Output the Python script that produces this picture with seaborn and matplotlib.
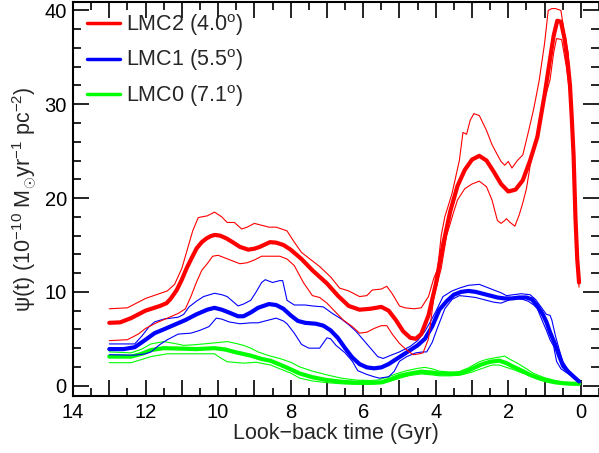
import numpy as np
import pandas as pd
import seaborn as sns
import matplotlib.pyplot as plt
from matplotlib.ticker import MultipleLocator, FuncFormatter

# star formation history: (look-back time in Gyr, psi)
lmc2_mid = [(13.0, 6.7), (12.7, 6.75), (12.4, 7.2), (12.0, 8.0), (11.6, 8.5), (11.42, 8.8),
            (11.3, 9.3), (11.14, 10.2), (11.0, 11.3), (10.87, 12.5), (10.73, 13.6), (10.59, 14.65),
            (10.45, 15.3), (10.32, 15.7), (10.2, 15.95), (10.09, 16.07), (9.95, 16.0), (9.77, 15.7),
            (9.6, 15.3), (9.4, 14.8), (9.17, 14.5), (9.0, 14.6), (8.85, 14.8), (8.57, 15.3),
            (8.4, 15.25), (8.2, 15.0), (8.0, 14.5), (7.7, 13.5), (7.4, 12.3), (7.0, 10.9),
            (6.7, 9.6), (6.4, 8.5), (6.1, 8.1), (5.8, 8.2), (5.5, 8.4), (5.3, 8.0),
            (5.1, 7.0), (4.9, 5.8), (4.7, 5.1), (4.55, 5.0), (4.4, 5.5), (4.2, 7.5),
            (4.0, 10.8), (3.8, 15.0), (3.6, 18.6), (3.4, 21.3), (3.2, 23.0), (3.0, 24.1),
            (2.8, 24.5), (2.6, 24.0), (2.4, 22.8), (2.2, 21.5), (2.0, 20.7), (1.8, 20.9),
            (1.6, 21.9), (1.4, 24.0), (1.2, 26.5), (1.0, 31.0), (0.85, 34.8), (0.75, 37.3),
            (0.65, 38.9), (0.55, 38.8), (0.45, 37.0), (0.35, 34.0), (0.3, 32.0), (0.25, 28.5),
            (0.2, 24.5), (0.15, 18.0), (0.1, 13.5), (0.05, 11.0)]
lmc2_hi = [(13.0, 8.2), (12.5, 8.3), (12.2, 8.9), (12.0, 9.3), (11.7, 9.7), (11.4, 10.1),
           (11.2, 10.8), (11.0, 12.5), (10.85, 14.5), (10.7, 16.5), (10.55, 17.9), (10.45, 18.0),
           (10.3, 18.1), (10.1, 18.5), (9.9, 18.0), (9.75, 17.4), (9.55, 17.4), (9.35, 16.7),
           (9.2, 16.9), (9.0, 17.3), (8.8, 17.1), (8.6, 16.9), (8.4, 16.9), (8.1, 16.5),
           (7.9, 15.3), (7.7, 14.2), (7.4, 13.3), (7.2, 12.7), (6.9, 11.6), (6.65, 10.4),
           (6.4, 10.1), (6.1, 9.5), (5.9, 9.6), (5.75, 10.2), (5.5, 10.3), (5.35, 10.6),
           (5.2, 9.8), (5.0, 8.5), (4.85, 8.3), (4.6, 8.2), (4.4, 8.3), (4.2, 9.5),
           (4.05, 11.5), (3.95, 12.4), (3.85, 16.0), (3.75, 18.0), (3.55, 20.5), (3.35, 24.0),
           (3.25, 27.0), (3.15, 26.8), (3.05, 28.3), (2.95, 29.0), (2.8, 28.8), (2.6, 27.2),
           (2.45, 25.7), (2.3, 24.6), (2.2, 23.9), (2.1, 23.5), (2.0, 23.9), (1.9, 23.2),
           (1.75, 24.0), (1.6, 24.6), (1.45, 27.0), (1.3, 29.5), (1.15, 32.5), (1.0, 36.5),
           (0.9, 40.0), (0.8, 40.2), (0.7, 40.2), (0.55, 40.0), (0.45, 37.5), (0.35, 35.5),
           (0.25, 29.0), (0.2, 25.0), (0.15, 18.0), (0.1, 13.0), (0.05, 10.5)]
lmc2_lo = [(13.0, 4.8), (12.5, 4.9), (12.2, 5.5), (12.0, 6.1), (11.7, 6.7), (11.4, 7.2),
           (11.1, 7.7), (10.9, 8.2), (10.75, 9.5), (10.6, 11.0), (10.45, 12.3), (10.3, 13.0),
           (10.15, 13.8), (10.0, 13.9), (9.8, 13.6), (9.6, 13.3), (9.4, 13.0), (9.2, 13.1),
           (9.0, 13.4), (8.8, 13.8), (8.5, 13.8), (8.3, 13.8), (8.1, 13.5), (7.9, 12.8),
           (7.65, 11.0), (7.4, 9.6), (7.2, 9.4), (7.0, 8.8), (6.8, 8.0), (6.55, 7.0),
           (6.3, 6.3), (6.1, 5.6), (5.9, 5.7), (5.7, 6.1), (5.5, 6.4), (5.35, 6.4),
           (5.2, 5.5), (5.0, 4.5), (4.8, 3.8), (4.62, 3.3), (4.45, 3.4), (4.35, 3.5),
           (4.2, 5.0), (4.05, 9.5), (3.85, 12.5), (3.7, 16.0), (3.5, 18.6), (3.4, 19.8),
           (3.2, 21.0), (3.0, 21.5), (2.8, 21.8), (2.6, 21.2), (2.45, 19.8), (2.3, 17.6),
           (2.2, 17.3), (2.1, 17.6), (2.05, 17.8), (1.95, 17.4), (1.82, 17.0), (1.7, 18.2),
           (1.6, 19.5), (1.5, 21.0), (1.4, 23.4), (1.2, 27.0), (1.0, 30.5), (0.85, 32.6),
           (0.75, 35.5), (0.67, 37.0), (0.53, 36.9), (0.4, 34.0), (0.3, 31.0), (0.2, 24.0),
           (0.15, 18.0), (0.1, 13.5), (0.05, 11.0)]

lmc1_mid = [(13.0, 3.9), (12.6, 3.9), (12.3, 4.1), (12.0, 4.9), (11.75, 5.6), (11.5, 6.0),
            (11.2, 6.5), (10.9, 7.0), (10.6, 7.6), (10.3, 8.1), (10.1, 8.3), (9.9, 8.1),
            (9.7, 7.8), (9.45, 7.4), (9.3, 7.4), (9.1, 7.8), (8.9, 8.3), (8.6, 8.7),
            (8.4, 8.6), (8.2, 8.2), (8.0, 7.5), (7.8, 6.9), (7.6, 6.7), (7.3, 6.6),
            (7.1, 6.4), (6.9, 5.9), (6.7, 5.1), (6.5, 4.0), (6.3, 3.0), (6.1, 2.3),
            (5.9, 1.95), (5.7, 1.85), (5.5, 1.95), (5.3, 2.3), (5.1, 2.8), (4.9, 3.3),
            (4.7, 3.8), (4.5, 4.3), (4.3, 5.0), (4.1, 6.3), (3.9, 8.1), (3.7, 9.0),
            (3.5, 9.7), (3.3, 10.0), (3.1, 10.1), (2.9, 10.0), (2.7, 9.8), (2.5, 9.6),
            (2.3, 9.4), (2.1, 9.3), (1.9, 9.3), (1.7, 9.4), (1.5, 9.4), (1.35, 9.2),
            (1.2, 8.5), (1.05, 7.6), (0.95, 6.8), (0.85, 5.7), (0.72, 4.5), (0.6, 3.2),
            (0.49, 2.1), (0.35, 1.5), (0.21, 1.0), (0.05, 0.45)]
lmc1_hi = [(13.0, 4.45), (12.3, 4.45), (12.1, 5.3), (11.9, 6.3), (11.75, 6.8), (11.5, 7.1),
           (11.1, 7.3), (10.95, 7.6), (10.8, 8.4), (10.6, 9.0), (10.4, 9.5), (10.1, 9.85),
           (9.9, 9.7), (9.75, 9.5), (9.6, 9.0), (9.45, 8.5), (9.3, 8.7), (9.1, 9.1),
           (8.95, 10.0), (8.8, 11.0), (8.7, 11.3), (8.5, 11.0), (8.3, 11.2), (8.22, 11.2),
           (8.1, 9.1), (7.9, 8.6), (7.6, 8.6), (7.4, 8.5), (7.1, 8.4), (6.85, 7.7),
           (6.6, 7.1), (6.4, 6.5), (6.2, 5.8), (6.0, 4.9), (5.8, 4.0), (5.6, 3.1),
           (5.45, 2.9), (5.2, 3.3), (5.0, 3.6), (4.7, 4.2), (4.5, 4.8), (4.3, 5.8),
           (4.15, 6.8), (4.0, 7.9), (3.8, 9.5), (3.55, 10.1), (3.35, 10.4), (3.1, 10.7),
           (2.8, 10.8), (2.6, 10.5), (2.4, 10.2), (2.2, 9.9), (2.05, 9.6), (1.85, 9.7),
           (1.65, 9.8), (1.4, 9.7), (1.25, 9.2), (1.1, 8.4), (0.95, 7.6), (0.85, 7.5),
           (0.8, 7.0), (0.7, 5.3), (0.6, 3.9), (0.5, 2.6), (0.35, 1.7), (0.2, 1.0),
           (0.05, 0.45)]
lmc1_lo = [(13.0, 3.3), (12.3, 3.25), (12.0, 3.4), (11.85, 3.6), (11.6, 4.4), (11.4, 4.9),
           (11.1, 5.5), (10.75, 5.6), (10.5, 5.9), (10.25, 6.3), (10.05, 7.2), (9.9, 7.1),
           (9.7, 6.8), (9.4, 6.6), (9.1, 6.7), (8.9, 6.7), (8.6, 7.0), (8.4, 7.2),
           (8.2, 6.9), (8.1, 6.6), (7.9, 5.6), (7.7, 4.4), (7.5, 4.0), (7.2, 4.0),
           (7.0, 5.1), (6.9, 5.0), (6.75, 4.3), (6.5, 3.5), (6.3, 2.6), (6.15, 1.6),
           (5.9, 1.2), (5.7, 0.95), (5.55, 0.8), (5.3, 0.95), (5.15, 1.5), (5.0, 2.6),
           (4.8, 3.1), (4.55, 3.5), (4.35, 3.6), (4.25, 3.6), (4.1, 4.6), (3.95, 6.2),
           (3.75, 8.2), (3.55, 9.2), (3.35, 9.6), (3.1, 9.5), (2.9, 9.4), (2.6, 9.1),
           (2.4, 8.9), (2.2, 8.8), (2.0, 9.1), (1.85, 9.3), (1.6, 9.2), (1.45, 9.0),
           (1.3, 8.6), (1.2, 8.2), (1.05, 6.8), (0.95, 5.9), (0.85, 4.9), (0.75, 4.2),
           (0.67, 2.6), (0.55, 1.8), (0.4, 1.4), (0.2, 0.9), (0.05, 0.45)]

lmc0_mid = [(13.0, 3.1), (12.4, 3.1), (12.1, 3.4), (11.85, 3.8), (11.5, 4.0), (11.0, 3.95),
            (10.6, 3.9), (10.1, 4.0), (9.8, 3.85), (9.5, 3.55), (9.1, 3.2), (8.8, 2.85),
            (8.55, 2.65), (8.3, 2.25), (8.0, 1.75), (7.75, 1.3), (7.4, 0.9), (7.0, 0.6),
            (6.6, 0.42), (6.2, 0.32), (5.8, 0.3), (5.5, 0.35), (5.2, 0.75), (5.0, 1.05),
            (4.7, 1.3), (4.4, 1.5), (4.1, 1.4), (3.9, 1.3), (3.6, 1.25), (3.4, 1.25),
            (3.2, 1.45), (3.0, 1.8), (2.75, 2.25), (2.5, 2.55), (2.25, 2.67), (2.05, 2.4),
            (1.85, 2.0), (1.6, 1.55), (1.4, 1.15), (1.2, 0.85), (0.95, 0.55), (0.7, 0.35),
            (0.45, 0.25), (0.2, 0.2), (0.05, 0.2)]
lmc0_hi = [(13.0, 3.6), (12.4, 3.5), (12.1, 3.9), (11.85, 4.45), (11.5, 4.7), (11.2, 4.5),
           (10.95, 4.3), (10.7, 4.35), (10.4, 4.45), (10.0, 4.6), (9.75, 4.7), (9.5, 4.5),
           (9.3, 4.3), (9.1, 4.0), (8.9, 3.6), (8.6, 3.2), (8.3, 2.9), (8.0, 2.5),
           (7.75, 2.0), (7.4, 1.55), (7.0, 1.15), (6.6, 0.8), (6.2, 0.6), (5.8, 0.55),
           (5.6, 0.6), (5.3, 0.95), (5.1, 1.25), (4.8, 1.6), (4.5, 1.85), (4.3, 1.95),
           (4.1, 1.8), (3.9, 1.55), (3.6, 1.45), (3.35, 1.5), (3.1, 1.9), (2.8, 2.55),
           (2.6, 2.8), (2.4, 2.95), (2.1, 3.15), (1.95, 2.8), (1.75, 2.4), (1.5, 1.8),
           (1.3, 1.3), (1.0, 0.85), (0.75, 0.6), (0.45, 0.35), (0.2, 0.25), (0.05, 0.2)]
lmc0_lo = [(13.0, 2.45), (12.4, 2.45), (12.1, 2.8), (11.85, 3.1), (11.4, 3.4), (10.7, 3.4),
           (10.1, 3.4), (9.95, 3.0), (9.75, 2.55), (9.3, 2.4), (8.95, 2.5), (8.55, 2.2),
           (8.3, 1.8), (8.0, 1.35), (7.75, 0.8), (7.4, 0.5), (7.0, 0.32), (6.6, 0.2),
           (6.2, 0.15), (5.7, 0.2), (5.4, 0.3), (5.15, 0.6), (4.9, 0.9), (4.7, 1.1),
           (4.4, 1.25), (4.1, 1.15), (3.9, 1.05), (3.6, 1.05), (3.3, 1.15), (3.0, 1.45),
           (2.75, 1.8), (2.45, 2.2), (2.25, 2.2), (2.05, 1.95), (1.85, 1.7), (1.65, 1.4),
           (1.4, 1.05), (1.2, 0.8), (0.95, 0.55), (0.75, 0.43), (0.45, 0.3), (0.2, 0.22),
           (0.05, 0.2)]

fields = ['LMC2 (4.0$^{\\rm o}$)', 'LMC1 (5.5$^{\\rm o}$)', 'LMC0 (7.1$^{\\rm o}$)']
colors = ['#ff0000', '#0000ff', '#00ff00']
series = [(lmc2_mid, lmc2_hi, lmc2_lo), (lmc1_mid, lmc1_hi, lmc1_lo), (lmc0_mid, lmc0_hi, lmc0_lo)]

sns.set_theme(style='ticks')
plt.rcParams['font.family'] = ['Liberation Sans', 'DejaVu Sans']
plt.rcParams['mathtext.fontset'] = 'custom'
plt.rcParams['mathtext.rm'] = 'Liberation Sans'
plt.rcParams['mathtext.it'] = 'Liberation Sans:italic'

fig = plt.figure(figsize=(5.99, 4.53), dpi=100)
ax = fig.add_axes([73 / 599, 57 / 453, 526 / 599, 394 / 453])

for i, (name, col, (mid, hi, lo)) in enumerate(zip(fields, colors, series)):
    z = 10 - i
    for band in (hi, lo):
        df = pd.DataFrame(band, columns=['t', 'sfr'])
        sns.lineplot(data=df, x='t', y='sfr', color=col, lw=0.8, sort=False,
                     estimator=None, ax=ax, zorder=z)
    df = pd.DataFrame(mid, columns=['t', 'sfr'])
    sns.lineplot(data=df, x='t', y='sfr', color=col, lw=3.0, sort=False,
                 estimator=None, ax=ax, zorder=z + 0.5, label=name)

ax.set_xlim(14, -0.5)
ax.set_ylim(-1.1, 40.9)

ax.xaxis.set_major_locator(MultipleLocator(1))
ax.xaxis.set_minor_locator(MultipleLocator(0.5))
ax.xaxis.set_major_formatter(FuncFormatter(lambda v, p: f'{v:.0f}' if round(v) % 2 == 0 else ''))
ax.yaxis.set_major_locator(MultipleLocator(10))
ax.yaxis.set_minor_locator(MultipleLocator(2))

ax.tick_params(which='both', direction='in', top=True, right=True, width=1.2, labelsize=14.5, colors='black')
ax.tick_params(which='major', length=11.5)
ax.tick_params(which='minor', length=5.8)
ax.tick_params(axis='x', pad=5)
ax.tick_params(axis='y', pad=4.5)

for side in ['left', 'bottom', 'top']:
    ax.spines[side].set_linewidth(1.5)
    ax.spines[side].set_color('black')
ax.spines['right'].set_visible(False)

ax.set_xlabel('Look\u2212back time (Gyr)', fontsize=15.5, labelpad=1)
ax.set_ylabel('\u03c8(t) (10$^{-10}$ M$_{\\odot}$yr$^{-1}$ pc$^{-2}$)', fontsize=15.5, labelpad=4)

leg = ax.legend(loc='upper left', bbox_to_anchor=(14 / 526, 0.975), frameon=False,
                fontsize=15.5, handlelength=1.55, handletextpad=0.25, labelspacing=0.45,
                borderpad=0, borderaxespad=0)
for ln in leg.get_lines():
    ln.set_linewidth(2.5)

fig.savefig('out.png', dpi=100)
